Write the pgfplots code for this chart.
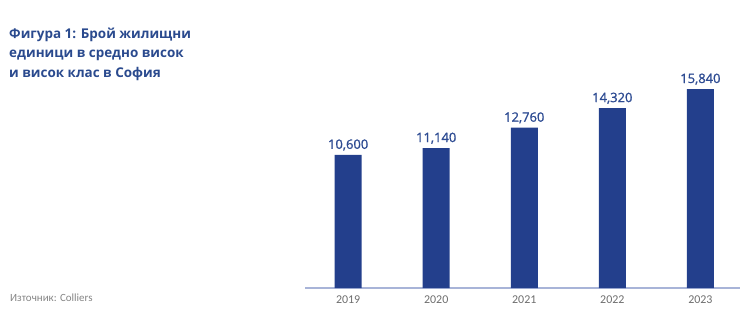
\documentclass[border=0pt]{standalone}
\usepackage{pgfplots}
\pgfplotsset{compat=1.18}
\usepackage{fontspec}
\setmainfont{Open Sans}
\newfontfamily\carlito{Carlito}
\newfontfamily\semib[FakeBold=1.2]{Open Sans}
\definecolor{barblue}{HTML}{233F8C}
\definecolor{titleblue}{HTML}{2A4A8E}
\definecolor{labelblue}{HTML}{2D4B92}
\definecolor{axisline}{HTML}{A8B4D8}
\definecolor{srcgray}{HTML}{858585}
\definecolor{yeargray}{HTML}{6E6E6E}
\begin{document}
\begin{tikzpicture}[x=1bp,y=1bp]
\path[use as bounding box] (0,0) rectangle (740,313);
\begin{scope}[every node/.style={anchor=base west, inner sep=0, text=titleblue, font=\fontsize{13.5}{19.5}\selectfont\bfseries}]
\node at (9,275) {Фигура 1: Брой жилищни};
\node at (9,255.5) {единици в средно висок};
\node at (9,236) {и висок клас в София};
\end{scope}
\node[anchor=base west, inner sep=0, text=srcgray, font=\carlito\fontsize{11}{13}\selectfont] at (10,12) {Източник: Colliers};
\begin{axis}[
  at={(305bp,25bp)}, anchor=south west,
  scale only axis, width=435bp, height=222.5bp,
  ymin=0, ymax=17712, xmin=-0.49, xmax=4.45,
  axis x line=bottom, axis y line=none,
  x axis line style={-, draw=axisline, line width=1.5pt},
  xtick={0,1,2,3,4}, xticklabels={2019,2020,2021,2022,2023},
  major tick length=0,
  xticklabel style={font=\carlito\fontsize{12}{12}\selectfont, text=yeargray, yshift=-4bp},
  clip=false,
  ybar, bar width=27bp,
  nodes near coords={\pgfmathprintnumber[1000 sep={,}, assume math mode=true]{\pgfplotspointmeta}},
  every node near coord/.append style={anchor=base, yshift=6bp, inner sep=0, text=labelblue, font=\semib\fontsize{13}{13}\selectfont},
]
\addplot[fill=barblue, draw=none] coordinates {(0,10600) (1,11140) (2,12760) (3,14320) (4,15840)};
\end{axis}
\end{tikzpicture}
\end{document}
